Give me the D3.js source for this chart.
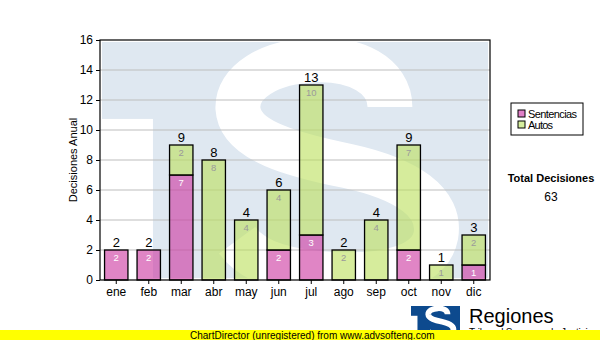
<!DOCTYPE html>
<html>
<head>
<meta charset="utf-8">
<script src="https://cdn.jsdelivr.net/npm/d3@7"></script>
<style>
  html, body { margin: 0; padding: 0; background: #fff; }
  svg { display: block; }
  text { font-family: "Liberation Sans", Arial, sans-serif; }
</style>
</head>
<body>
<svg id="chart" width="600" height="340"></svg>
<script>
// Monthly decisions, split into sentencias and autos
const months = ["ene", "feb", "mar", "abr", "may", "jun", "jul", "ago", "sep", "oct", "nov", "dic"];
const sentencias = [2, 2, 7, 0, 0, 2, 3, 0, 0, 2, 0, 1];
const autos = [0, 0, 2, 8, 4, 4, 10, 2, 4, 7, 1, 2];
const yTicks = [0, 2, 4, 6, 8, 10, 12, 14, 16];
const seriesNames = ["Sentencias", "Autos"];

const rows = months.map((m, i) => ({ month: m, Sentencias: sentencias[i], Autos: autos[i] }));
const totals = rows.map(r => r.Sentencias + r.Autos);
const grandTotal = d3.sum(totals);

const svg = d3.select("#chart");
const plot = { left: 100, top: 40, right: 490, bottom: 280 };

const x = d3.scaleBand().domain(months).range([plot.left, plot.right]).paddingInner(0.28).paddingOuter(0.14);
const y = d3.scaleLinear().domain([0, 16]).range([plot.bottom, plot.top]);

const fillColor = { Sentencias: "#cd3aa2", Autos: "#bde160" };
const swatchColor = { Sentencias: "#e07fc6", Autos: "#d6ee9e" };
const labelColor = { Sentencias: "#ffffff", Autos: "#9a9a9a" };

// Logo drawn in a unit box: filled square, notch at lower left and a thick "S" stroke
function drawLogo(g, bx, by, bw, bh, base, cut) {
  const px = u => bx + u * bw;
  const py = v => by + v * bh;
  g.append("rect").attr("x", bx).attr("y", by).attr("width", bw).attr("height", bh).attr("fill", base);
  g.append("rect").attr("x", bx).attr("y", py(0.326)).attr("width", 0.132 * bw).attr("height", bh * 0.674).attr("fill", cut);
  // S centre line, in fractions of the box
  const pts = [
    [0.746, 0.275],
    [0.746, 0.140, 0.655, 0.068, 0.550, 0.076],
    [0.430, 0.085, 0.350, 0.170, 0.352, 0.280],
    [0.357, 0.420, 0.500, 0.480, 0.635, 0.525],
    [0.790, 0.580, 0.880, 0.680, 0.865, 0.820],
    [0.850, 0.950, 0.740, 0.995, 0.600, 0.985],
    [0.470, 0.975, 0.390, 0.930, 0.350, 0.840]
  ];
  const p = d3.path();
  p.moveTo(px(pts[0][0]), py(pts[0][1]));
  pts.slice(1).forEach(c => p.bezierCurveTo(px(c[0]), py(c[1]), px(c[2]), py(c[3]), px(c[4]), py(c[5])));
  g.append("path").attr("d", p.toString()).attr("fill", "none")
    .attr("stroke", cut).attr("stroke-width", 0.19 * bh).attr("stroke-linecap", "butt");
}

// Background watermark inside the plot area
svg.append("clipPath").attr("id", "plotClip").append("rect")
  .attr("x", plot.left).attr("y", plot.top).attr("width", plot.right - plot.left).attr("height", plot.bottom - plot.top);
const wm = svg.append("g").attr("clip-path", "url(#plotClip)");
drawLogo(wm, plot.left + 2, plot.top + 2, 386, 236, "#dfe8f1", "#ffffff");

// Horizontal grid lines
svg.append("g").selectAll("line").data(yTicks.filter(t => t > 0 && t < 16)).join("line")
  .attr("x1", plot.left).attr("x2", plot.right)
  .attr("y1", d => y(d)).attr("y2", d => y(d))
  .attr("stroke", "#bdbdbd").attr("stroke-width", 1.2);

// Stacked bars
const stack = d3.stack().keys(seriesNames)(rows);
const layers = svg.append("g").selectAll("g").data(stack).join("g");
layers.selectAll("rect").data(d => d.map(s => ({ key: d.key, s }))).join("rect")
  .filter(d => d.s[1] - d.s[0] > 0)
  .attr("x", d => x(d.s.data.month))
  .attr("y", d => y(d.s[1]))
  .attr("width", x.bandwidth())
  .attr("height", d => y(d.s[0]) - y(d.s[1]))
  .attr("fill", d => fillColor[d.key])
  .attr("fill-opacity", 0.62)
  .attr("stroke", "#000")
  .attr("stroke-width", 1.3);

// Segment values, just inside the top of each segment
layers.selectAll("text").data(d => d.map(s => ({ key: d.key, s }))).join("text")
  .filter(d => d.s[1] - d.s[0] > 0)
  .attr("x", d => x(d.s.data.month) + x.bandwidth() / 2)
  .attr("y", d => y(d.s[1]) + 11)
  .attr("text-anchor", "middle")
  .attr("font-size", 9.5)
  .attr("fill", d => labelColor[d.key])
  .text(d => d.s[1] - d.s[0]);

// Totals above bars
svg.append("g").selectAll("text").data(rows).join("text")
  .attr("x", d => x(d.month) + x.bandwidth() / 2)
  .attr("y", (d, i) => y(totals[i]) - 3)
  .attr("text-anchor", "middle")
  .attr("font-size", 13)
  .attr("fill", "#000")
  .text((d, i) => totals[i]);

// Plot frame
svg.append("rect").attr("x", plot.left).attr("y", plot.top)
  .attr("width", plot.right - plot.left).attr("height", plot.bottom - plot.top)
  .attr("fill", "none").attr("stroke", "#000").attr("stroke-width", 1.2);

// Axes
const yAxis = d3.axisLeft(y).tickValues(yTicks).tickSize(4).tickPadding(3);
const gy = svg.append("g").attr("transform", `translate(${plot.left},0)`).call(yAxis);
gy.select(".domain").remove();
gy.selectAll("text").attr("font-size", 12).attr("fill", "#000").attr("font-family", "Liberation Sans, Arial, sans-serif");

const xAxis = d3.axisBottom(x).tickSize(4).tickPadding(3);
const gx = svg.append("g").attr("transform", `translate(0,${plot.bottom})`).call(xAxis);
gx.select(".domain").remove();
gx.selectAll("text").attr("font-size", 12).attr("fill", "#000").attr("font-family", "Liberation Sans, Arial, sans-serif");

svg.append("text")
  .attr("transform", `translate(77,${(plot.top + plot.bottom) / 2}) rotate(-90)`)
  .attr("text-anchor", "middle")
  .attr("font-size", 11)
  .text("Decisiones Anual");

// Legend
const legend = svg.append("g");
legend.append("rect").attr("x", 511).attr("y", 103).attr("width", 72).attr("height", 32)
  .attr("fill", "#fff").attr("stroke", "#000").attr("stroke-width", 1);
seriesNames.forEach((name, i) => {
  legend.append("rect").attr("x", 518).attr("y", 110 + i * 11).attr("width", 7).attr("height", 7)
    .attr("fill", swatchColor[name]).attr("stroke", "#000").attr("stroke-width", 1);
  legend.append("text").attr("x", 528).attr("y", 117.5 + i * 11)
    .attr("font-size", 11).attr("font-family", "DejaVu Sans Condensed, DejaVu Sans, sans-serif")
    .attr("textLength", name === "Sentencias" ? 49 : 25)
    .text(name);
});

// Grand total
svg.append("text").attr("x", 551).attr("y", 182).attr("text-anchor", "middle")
  .attr("font-size", 11).attr("font-weight", "bold")
  .attr("font-family", "DejaVu Sans Condensed, DejaVu Sans, sans-serif")
  .text("Total Decisiones");
svg.append("text").attr("x", 551).attr("y", 201).attr("text-anchor", "middle")
  .attr("font-size", 12).attr("font-family", "DejaVu Sans, sans-serif")
  .text(grandTotal);

// Brand block at the bottom
const brand = svg.append("g");
drawLogo(brand, 411, 306, 49, 30, "#0d4a8e", "#ffffff");
brand.append("text").attr("x", 469).attr("y", 323).attr("font-size", 20).attr("fill", "#000").text("Regiones");
brand.append("text").attr("x", 469).attr("y", 336).attr("font-size", 10).attr("fill", "#000")
  .attr("textLength", 124).text("Tribunal Supremo de Justicia");

// Footer strip
svg.append("rect").attr("x", 0).attr("y", 330).attr("width", 600).attr("height", 10).attr("fill", "#ffff00");
svg.append("text").attr("x", 190).attr("y", 338.5).attr("font-size", 10).attr("fill", "#000")
  .text("ChartDirector (unregistered) from www.advsofteng.com");
</script>
</body>
</html>
